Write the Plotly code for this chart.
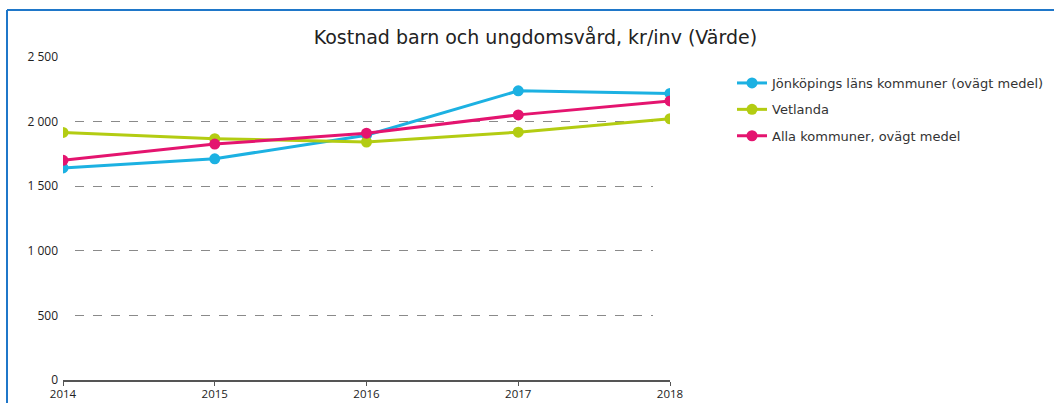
import plotly.graph_objects as go

years = [2014, 2015, 2016, 2017, 2018]
jonkoping = [1641, 1712, 1895, 2238, 2218]
vetlanda = [1916, 1868, 1842, 1918, 2022]
alla = [1700, 1826, 1910, 2052, 2160]

series_names = ["Jönköpings läns kommuner (ovägt medel)", "Vetlanda", "Alla kommuner, ovägt medel"]
series_colors = ["#1cb1e2", "#b3cc12", "#e4146f"]

y_tickvals = [0, 500, 1000, 1500, 2000, 2500]
y_ticktext = ["0", "500", "1 000", "1 500", "2 000", "2 500"]
grid_vals = [500, 1000, 1500, 2000]

W, H = 1054, 403
L, R, T, B = 63, 1054 - 670, 57, 403 - 380
pw, ph = W - L - R, H - T - B

def px_x(p):
    return (p - L) / pw

def px_y(p):
    return (H - B - p) / ph

fig = go.Figure()

# grid-only subplot (behind)
fig.add_trace(go.Scatter(x=[], y=[], xaxis="x", yaxis="y", showlegend=False, hoverinfo="skip"))

for name, vals, col in zip(series_names, [jonkoping, vetlanda, alla], series_colors):
    fig.add_trace(go.Scatter(
        x=years, y=vals, name=name, mode="lines+markers",
        line=dict(color=col, width=3), marker=dict(color=col, size=11),
        xaxis="x2", yaxis="y2", legendgroup=name,
    ))

font_main = "DejaVu Sans"
font_tick = "Open Sans"

fig.update_layout(
    width=W, height=H,
    margin=dict(l=L, r=R, t=T, b=B, autoexpand=False),
    paper_bgcolor="white", plot_bgcolor="rgba(0,0,0,0)",
    title=dict(text="Kostnad barn och ungdomsvård, kr/inv (Värde)", x=0.508, xanchor="center",
               y=1 - 37 / H, yanchor="middle", font=dict(family=font_main, size=19, color="#222")),
    xaxis=dict(domain=[px_x(75), px_x(653)], range=[0, 1], visible=False, automargin=False),
    yaxis=dict(anchor="x", range=[0, 2500], tickvals=grid_vals, showticklabels=False,
               showgrid=True, gridcolor="#8a8a8a", griddash="dash", gridwidth=1,
               zeroline=False, showline=False, ticks="", automargin=False),
    xaxis2=dict(domain=[0, 1], anchor="y2", range=[2014, 2018], tickvals=years,
                showgrid=False, zeroline=False, showline=True, linecolor="#555", linewidth=2,
                ticks="outside", ticklen=4, tickcolor="#555", tickwidth=1, automargin=False,
                ticklabelstandoff=-2,
                tickfont=dict(family=font_tick, size=11.5, color="#222")),
    yaxis2=dict(anchor="x2", range=[0, 2500], tickvals=y_tickvals, ticktext=y_ticktext,
                showgrid=False, zeroline=False, showline=False, ticks="", automargin=False,
                ticklabelstandoff=4,
                tickfont=dict(family=font_tick, size=12, color="#222")),
    legend=dict(x=px_x(732), y=px_y(68), xanchor="left", yanchor="top",
                font=dict(family=font_main, size=13, color="#333"),
                tracegroupgap=6.5, bgcolor="rgba(0,0,0,0)"),
    shapes=[
        dict(type="line", xref="paper", yref="paper", x0=px_x(7), x1=px_x(W + 5),
             y0=px_y(10), y1=px_y(10), line=dict(color="#1f77c9", width=2)),
        dict(type="line", xref="paper", yref="paper", x0=px_x(7), x1=px_x(7),
             y0=px_y(10), y1=px_y(H + 5), line=dict(color="#1f77c9", width=2)),
    ],
)

fig.write_html("out.html", config={"displayModeBar": False},
               post_script="document.body.style.margin='0';document.body.style.overflow='hidden';")
